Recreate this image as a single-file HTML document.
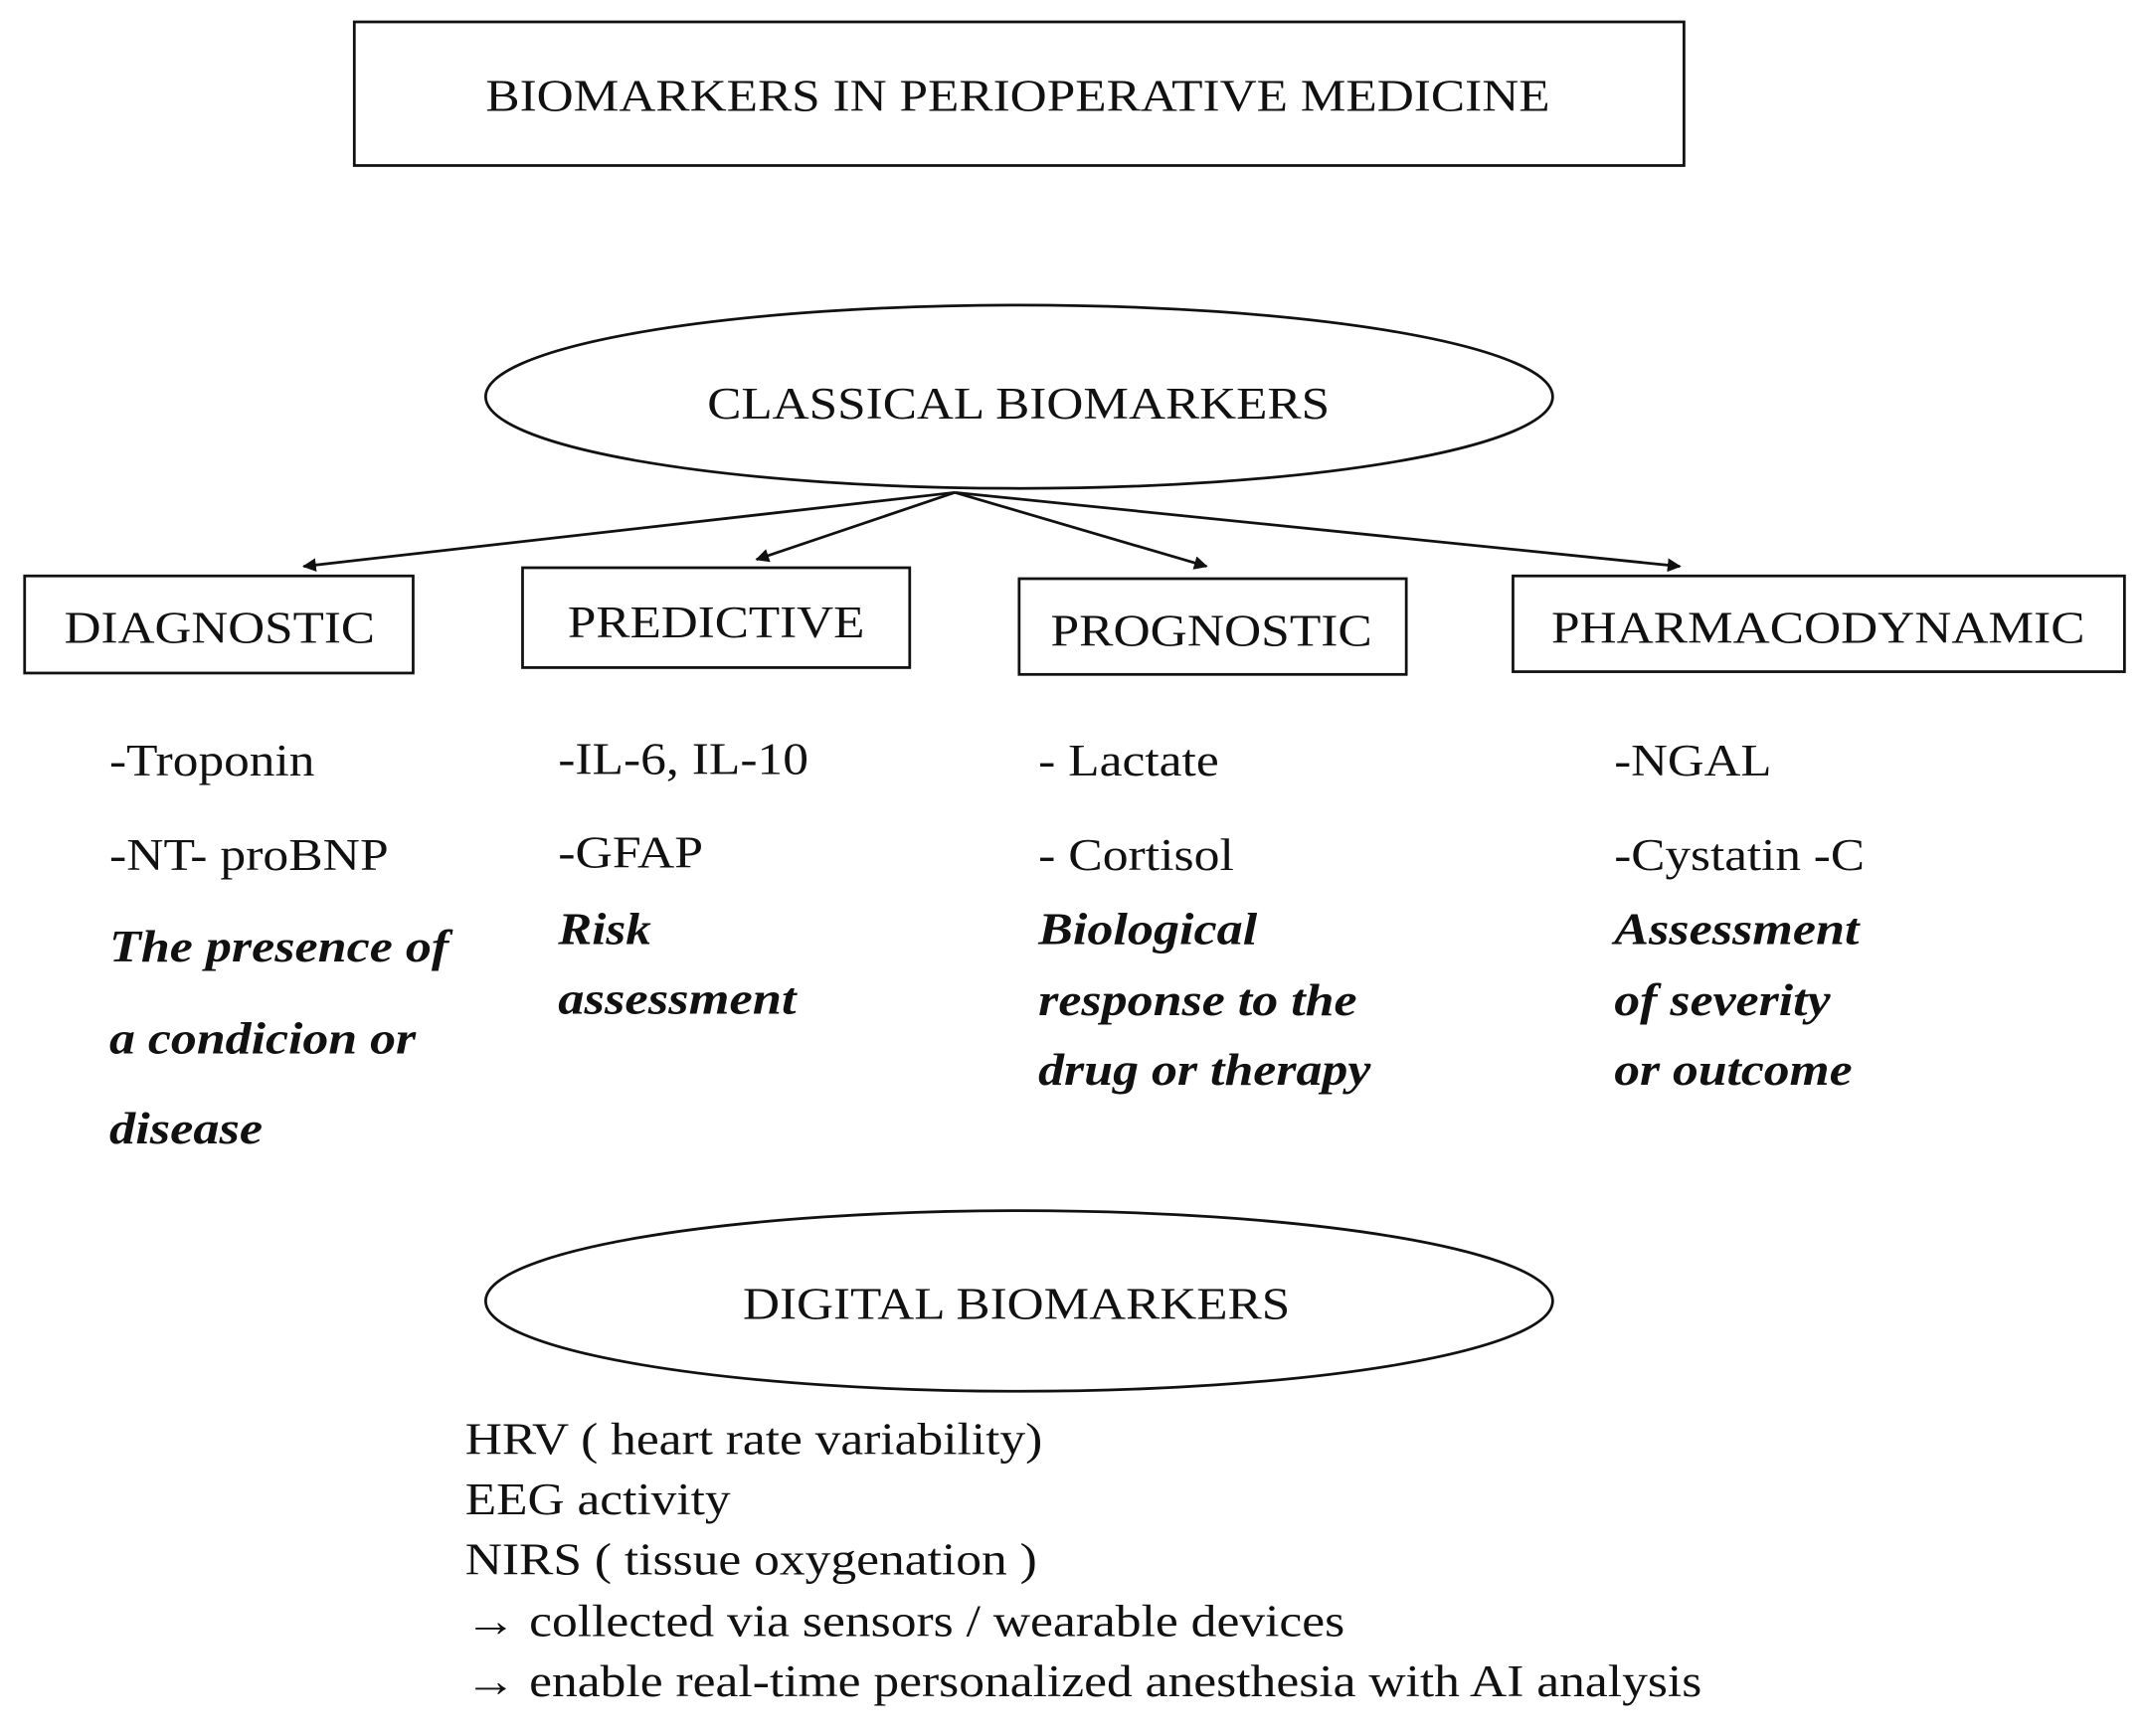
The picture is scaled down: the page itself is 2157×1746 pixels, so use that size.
<!DOCTYPE html>
<html><head><meta charset="utf-8"><style>
html,body{margin:0;padding:0;background:#fff;}
svg{display:block;}
text{font-family:"Liberation Serif",serif;fill:#111;}
.b{font-size:33px;}
.i{font-size:33px;font-style:italic;font-weight:bold;}
</style></head><body>
<svg width="2157" height="1746" viewBox="0 0 1568 1269" preserveAspectRatio="none" xmlns="http://www.w3.org/2000/svg">
<defs><marker id="a" markerWidth="10" markerHeight="10" refX="9" refY="5" orient="auto" markerUnits="userSpaceOnUse"><path d="M0,0 L10,5 L0,10 z" fill="#111"/></marker></defs>
<rect x="259" y="16" width="972" height="105" fill="none" stroke="#111" stroke-width="2"/>
<text class="b" x="355" y="81" textLength="778" lengthAdjust="spacingAndGlyphs">BIOMARKERS IN PERIOPERATIVE MEDICINE</text>
<ellipse cx="745" cy="290" rx="390" ry="67" fill="none" stroke="#111" stroke-width="2"/>
<text class="b" x="517" y="306" textLength="455" lengthAdjust="spacingAndGlyphs">CLASSICAL BIOMARKERS</text>
<g stroke="#111" stroke-width="2" marker-end="url(#a)">
<line x1="698" y1="360" x2="222" y2="414"/>
<line x1="698" y1="360" x2="553" y2="409"/>
<line x1="698" y1="360" x2="882" y2="414"/>
<line x1="698" y1="360" x2="1228" y2="414"/>
</g>
<g fill="none" stroke="#111" stroke-width="2">
<rect x="18" y="421" width="284" height="71"/>
<rect x="382" y="415" width="283" height="73"/>
<rect x="745" y="423" width="283" height="70"/>
<rect x="1106" y="421" width="447" height="70"/>
</g>
<text class="b" x="47" y="470" textLength="227" lengthAdjust="spacingAndGlyphs">DIAGNOSTIC</text>
<text class="b" x="415" y="466" textLength="217" lengthAdjust="spacingAndGlyphs">PREDICTIVE</text>
<text class="b" x="768" y="472" textLength="235" lengthAdjust="spacingAndGlyphs">PROGNOSTIC</text>
<text class="b" x="1134" y="470" textLength="390" lengthAdjust="spacingAndGlyphs">PHARMACODYNAMIC</text>

<text class="b" x="80" y="567" textLength="150" lengthAdjust="spacingAndGlyphs">-Troponin</text>
<text class="b" x="80" y="636" textLength="204" lengthAdjust="spacingAndGlyphs">-NT- proBNP</text>
<text class="i" x="80" y="703" textLength="248" lengthAdjust="spacingAndGlyphs">The presence of</text>
<text class="i" x="80" y="770" textLength="224" lengthAdjust="spacingAndGlyphs">a condicion or</text>
<text class="i" x="80" y="836" textLength="112" lengthAdjust="spacingAndGlyphs">disease</text>

<text class="b" x="408" y="566" textLength="183" lengthAdjust="spacingAndGlyphs">-IL-6, IL-10</text>
<text class="b" x="408" y="634" textLength="106" lengthAdjust="spacingAndGlyphs">-GFAP</text>
<text class="i" x="408" y="690" textLength="68" lengthAdjust="spacingAndGlyphs">Risk</text>
<text class="i" x="408" y="741" textLength="174" lengthAdjust="spacingAndGlyphs">assessment</text>

<text class="b" x="759" y="567" textLength="132" lengthAdjust="spacingAndGlyphs">- Lactate</text>
<text class="b" x="759" y="636" textLength="143" lengthAdjust="spacingAndGlyphs">- Cortisol</text>
<text class="i" x="759" y="690" textLength="160" lengthAdjust="spacingAndGlyphs">Biological</text>
<text class="i" x="759" y="742" textLength="233" lengthAdjust="spacingAndGlyphs">response to the</text>
<text class="i" x="759" y="793" textLength="243" lengthAdjust="spacingAndGlyphs">drug or therapy</text>

<text class="b" x="1180" y="567" textLength="115" lengthAdjust="spacingAndGlyphs">-NGAL</text>
<text class="b" x="1180" y="636" textLength="183" lengthAdjust="spacingAndGlyphs">-Cystatin -C</text>
<text class="i" x="1180" y="690" textLength="179" lengthAdjust="spacingAndGlyphs">Assessment</text>
<text class="i" x="1180" y="742" textLength="158" lengthAdjust="spacingAndGlyphs">of severity</text>
<text class="i" x="1180" y="793" textLength="174" lengthAdjust="spacingAndGlyphs">or outcome</text>

<ellipse cx="745" cy="951" rx="390" ry="66" fill="none" stroke="#111" stroke-width="2"/>
<text class="b" x="543" y="964" textLength="400" lengthAdjust="spacingAndGlyphs">DIGITAL BIOMARKERS</text>

<text class="b" x="340" y="1063" textLength="422" lengthAdjust="spacingAndGlyphs">HRV ( heart rate variability)</text>
<text class="b" x="340" y="1107" textLength="194" lengthAdjust="spacingAndGlyphs">EEG activity</text>
<text class="b" x="340" y="1151" textLength="418" lengthAdjust="spacingAndGlyphs">NIRS ( tissue oxygenation )</text>
<text class="b" x="340" y="1196" textLength="643" lengthAdjust="spacingAndGlyphs">→ collected via sensors / wearable devices</text>
<text class="b" x="340" y="1240" textLength="904" lengthAdjust="spacingAndGlyphs">→ enable real-time personalized anesthesia with AI analysis</text>
</svg>
</body></html>
